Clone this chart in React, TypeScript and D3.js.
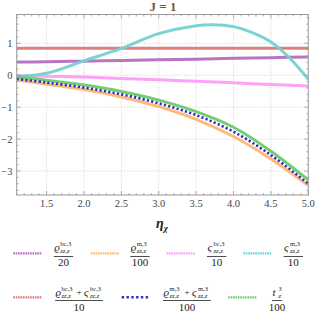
import React from "react";
import * as d3 from "d3";

const etas = [1.1, 1.5, 2.0, 2.5, 3.0, 3.5, 4.0, 4.5, 5.0];
const rhoBc20 = [0.41, 0.42, 0.44, 0.46, 0.48, 0.5, 0.53, 0.55, 0.57];
const rhoM100 = [-0.15, -0.28, -0.45, -0.68, -0.98, -1.38, -1.92, -2.62, -3.45];
const sBc10 = [-0.01, -0.03, -0.06, -0.1, -0.14, -0.19, -0.24, -0.29, -0.34];
const rhoSBc10 = [0.84, 0.84, 0.84, 0.84, 0.84, 0.84, 0.84, 0.84, 0.84];
const rhoSM100 = [-0.12, -0.23, -0.39, -0.6, -0.88, -1.25, -1.77, -2.5, -3.4];
const t100 = [-0.06, -0.16, -0.31, -0.51, -0.78, -1.14, -1.63, -2.38, -3.28];

const etasSM = [1.1, 1.5, 2.0, 2.5, 3.0, 3.5, 3.72, 4.0, 4.25, 4.5, 4.75, 5.0];
const sM10 = [-0.05, 0.06, 0.45, 0.84, 1.3, 1.55, 1.58, 1.52, 1.33, 1.04, 0.54, -0.13];

const xTicks = [1.5, 2.0, 2.5, 3.0, 3.5, 4.0, 4.5, 5.0];
const yTicks = [-3, -2, -1, 0, 1];

const W = 319, H = 316;
const L = 16.7, R = 308.3, T = 14.5, B = 195;
const x = d3.scaleLinear().domain([1.1, 5.0]).range([L, R]);
const y = d3.scaleLinear().domain([-3.75, 1.9]).range([B, T]);

const COLORS = {
  purple: "#b46ebe",
  orange: "#ffb573",
  pink: "#ff9cf5",
  cyan: "#74d2d2",
  red: "#dc7878",
  blue: "#2f2fc4",
  green: "#6cca6c",
};

type Series = { xs: number[]; ys: number[]; color: string; dotted?: boolean };
const series: Series[] = [
  { xs: etas, ys: rhoSBc10, color: COLORS.red },
  { xs: etas, ys: rhoBc20, color: COLORS.purple },
  { xs: etas, ys: sBc10, color: COLORS.pink },
  { xs: etasSM, ys: sM10, color: COLORS.cyan },
  { xs: etas, ys: rhoM100, color: COLORS.orange },
  { xs: etas, ys: t100, color: COLORS.green },
  { xs: etas, ys: rhoSM100, color: COLORS.blue, dotted: true },
];

const serif = "'Liberation Serif', 'DejaVu Serif', serif";

function Term({ x0, yb, base, sup, sub }: { x0: number; yb: number; base: string; sup: string; sub: string }) {
  const bw = 6;
  return (
    <g fontFamily={serif}>
      <text x={x0} y={yb} fontSize={11} fontStyle="italic" fill="#222">{base}</text>
      <text x={x0 + bw} y={yb - 5} fontSize={6.5} fill="#222">{sup}</text>
      <text x={x0 + bw} y={yb + 1.5} fontSize={6.5} fontStyle="italic" fill="#222">{sub}</text>
    </g>
  );
}

type Part = { base: string; sup: string; sub: string };
type LegendItem = { color: string; dotted?: boolean; parts: Part[]; den: string };

const legendRow1: LegendItem[] = [
  { color: COLORS.purple, parts: [{ base: "ϱ", sup: "bc,3", sub: "zz,z" }], den: "20" },
  { color: COLORS.orange, parts: [{ base: "ϱ", sup: "m,3", sub: "zz,z" }], den: "100" },
  { color: COLORS.pink, parts: [{ base: "ς", sup: "bc,3", sub: "zz,z" }], den: "10" },
  { color: COLORS.cyan, parts: [{ base: "ς", sup: "m,3", sub: "zz,z" }], den: "10" },
];
const legendRow2: LegendItem[] = [
  { color: COLORS.red, parts: [{ base: "ϱ", sup: "bc,3", sub: "zz,z" }, { base: "ς", sup: "bc,3", sub: "zz,z" }], den: "10" },
  { color: COLORS.blue, dotted: true, parts: [{ base: "ϱ", sup: "m,3", sub: "zz,z" }, { base: "ς", sup: "m,3", sub: "zz,z" }], den: "100" },
  { color: COLORS.green, parts: [{ base: "t", sup: "3", sub: "z" }], den: "100" },
];

function partWidth(p: Part) {
  return 6 + Math.max(p.sup.length, p.sub.length) * 3.1;
}

function LegendEntry({ item, sx, cx, ySw, yNum, yBar, yDen }: { item: LegendItem; sx: number; cx: number; ySw: number; yNum: number; yBar: number; yDen: number }) {
  const plusW = 10;
  const total = item.parts.reduce((s, p) => s + partWidth(p), 0) + (item.parts.length - 1) * plusW;
  let cur = cx - total / 2;
  const els: React.ReactNode[] = [];
  item.parts.forEach((p, i) => {
    if (i > 0) {
      els.push(<text key={"p" + i} x={cur + plusW / 2} y={yNum - 1} fontSize={9} textAnchor="middle" fontFamily={serif} fill="#222">+</text>);
      cur += plusW;
    }
    els.push(<Term key={"t" + i} x0={cur} yb={yNum} base={p.base} sup={p.sup} sub={p.sub} />);
    cur += partWidth(p);
  });
  return (
    <g>
      <line x1={sx} x2={sx + 28.5} y1={ySw} y2={ySw} stroke={item.color}
        strokeWidth={item.dotted ? 2.6 : 2.2}
        strokeDasharray={item.dotted ? "2.4,2.4" : "1.6,0.8"} />
      {els}
      <line x1={cx - total / 2 - 0.5} x2={cx + total / 2 + 0.5} y1={yBar} y2={yBar} stroke="#222" strokeWidth={0.8} />
      <text x={cx} y={yDen} fontSize={11} textAnchor="middle" fontFamily={serif} fill="#222">{item.den}</text>
    </g>
  );
}

export default function App() {
  const line = (xs: number[]) =>
    d3.line<number>().x((_, i) => x(xs[i])).y((d) => y(d)).curve(d3.curveCatmullRom.alpha(0.5));

  const xMinor = d3.range(1.1, 5.0001, 0.1);
  const yMinor = d3.range(-3.6, 1.9, 0.2);

  const row1Sw = [13.3, 90.7, 166.7, 243.3];
  const row1Cx = [63.5, 140, 216.7, 293.3];
  const row2Sw = [13.3, 121.7, 228.3];
  const row2Cx = [79, 187, 277];

  return (
    <svg width={W} height={H} style={{ position: "absolute", left: 0, top: 0, background: "#fff" }}>
      <defs>
        <clipPath id="plotclip">
          <rect x={L} y={T} width={R - L} height={B - T} />
        </clipPath>
      </defs>
      <text x={163} y={11} fontSize={13} textAnchor="middle" fontFamily={serif} fontWeight="bold" fill="#7a5535">J = 1</text>

      {/* grid */}
      {xTicks.filter((t) => t < 5).map((t) => (
        <line key={"gx" + t} x1={x(t)} x2={x(t)} y1={T} y2={B} stroke="#c8c8c8" strokeWidth={0.8} strokeDasharray="1,1.5" />
      ))}
      {yTicks.map((t) => (
        <line key={"gy" + t} x1={L} x2={R} y1={y(t)} y2={y(t)} stroke="#c8c8c8" strokeWidth={0.8} strokeDasharray="1,1.5" />
      ))}

      {/* series */}
      <g clipPath="url(#plotclip)">
        {series.map((s, i) => (
          <path key={i} d={line(s.xs)(s.ys) || ""} fill="none" stroke={s.color}
            strokeWidth={s.dotted ? 2.6 : 3}
            strokeDasharray={s.dotted ? "2.2,2.2" : undefined}
            strokeOpacity={s.dotted ? 1 : 0.95} />
        ))}
      </g>

      {/* frame */}
      <rect x={L} y={T} width={R - L} height={B - T} fill="none" stroke="#9a9a9a" strokeWidth={1} />
      {xMinor.map((t, i) => {
        const major = Math.abs(t * 2 - Math.round(t * 2)) < 1e-6;
        const len = major ? 4 : 2;
        return (
          <g key={"xm" + i}>
            <line x1={x(t)} x2={x(t)} y1={B} y2={B - len} stroke="#9a9a9a" strokeWidth={0.8} />
            <line x1={x(t)} x2={x(t)} y1={T} y2={T + len} stroke="#9a9a9a" strokeWidth={0.8} />
          </g>
        );
      })}
      {yMinor.map((t, i) => {
        const major = Math.abs(t - Math.round(t)) < 1e-6;
        const len = major ? 4 : 2;
        return (
          <g key={"ym" + i}>
            <line x1={L} x2={L + len} y1={y(t)} y2={y(t)} stroke="#9a9a9a" strokeWidth={0.8} />
            <line x1={R} x2={R - len} y1={y(t)} y2={y(t)} stroke="#9a9a9a" strokeWidth={0.8} />
          </g>
        );
      })}

      {/* tick labels */}
      {xTicks.map((t) => (
        <text key={"xl" + t} x={x(t)} y={206.5} fontSize={10.5} textAnchor="middle" fontFamily={serif} fill="#444">{t.toFixed(1)}</text>
      ))}
      {yTicks.map((t) => (
        <text key={"yl" + t} x={12.5} y={y(t) + 3.5} fontSize={10.5} textAnchor="end" fontFamily={serif} fill="#444">{t < 0 ? "\u2212" + Math.abs(t) : String(t)}</text>
      ))}

      <text x={162} y={228} fontSize={14} textAnchor="middle" fontFamily={serif} fontStyle="italic" fontWeight="bold" fill="#222">
        η<tspan fontSize={9} dy={3}>χ</tspan>
      </text>

      {legendRow1.map((it, i) => (
        <LegendEntry key={"l1" + i} item={it} sx={row1Sw[i]} cx={row1Cx[i]} ySw={253.3} yNum={251} yBar={256.5} yDen={266} />
      ))}
      {legendRow2.map((it, i) => (
        <LegendEntry key={"l2" + i} item={it} sx={row2Sw[i]} cx={row2Cx[i]} ySw={297.3} yNum={296} yBar={300.5} yDen={310.5} />
      ))}
    </svg>
  );
}
